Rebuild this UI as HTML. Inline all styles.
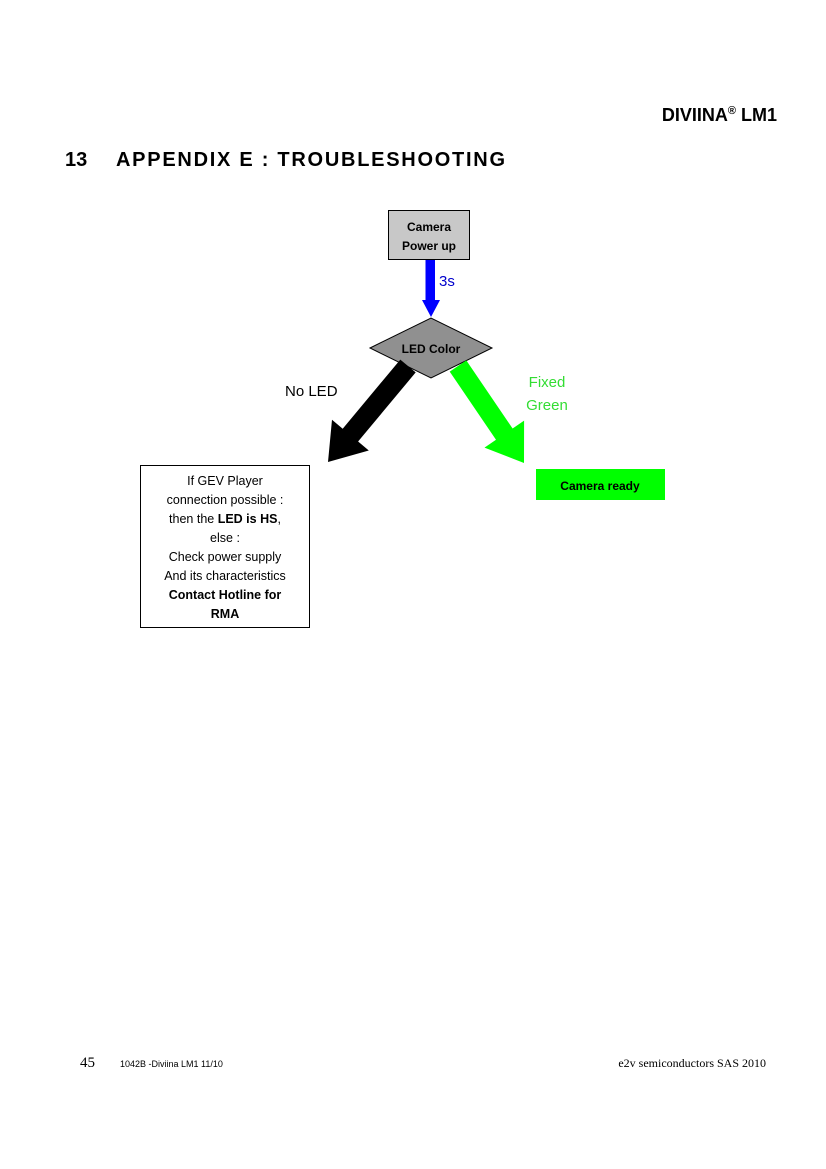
<!DOCTYPE html>
<html><head><meta charset="utf-8"><style>
html,body{margin:0;padding:0;background:#fff;}
body{width:826px;height:1169px;position:relative;overflow:hidden;}
</style></head><body>
<svg width="826" height="1169" viewBox="0 0 826 1169" xmlns="http://www.w3.org/2000/svg" style="position:absolute;left:0;top:0">
<text x="777" y="121" text-anchor="end" font-family="Liberation Sans, sans-serif" font-weight="bold" font-size="18">DIVIINA<tspan font-size="11" dy="-7">®</tspan><tspan dy="7"> LM1</tspan></text>
<text x="65" y="166" font-family="Liberation Sans, sans-serif" font-weight="bold" font-size="20">13</text>
<text x="116" y="166" font-family="Liberation Sans, sans-serif" font-weight="bold" font-size="20" textLength="389">APPENDIX E : TROUBLESHOOTING</text>

<rect x="388.5" y="210.5" width="81" height="49" fill="#c8c8c8" stroke="#000" stroke-width="1"/>
<text x="429" y="231" text-anchor="middle" font-family="Liberation Sans, sans-serif" font-weight="bold" font-size="12">Camera</text>
<text x="429" y="250" text-anchor="middle" font-family="Liberation Sans, sans-serif" font-weight="bold" font-size="12">Power up</text>

<polygon points="425.5,260 435,260 435,300 440,300 431,317 422,300 425.5,300" fill="#0000ff"/>
<text x="439" y="286" font-family="Liberation Sans, sans-serif" font-size="15" fill="#0000cc">3s</text>

<polygon points="370,348 431,318 492,348 431,378" fill="#909090" stroke="#000" stroke-width="1"/>
<text x="431" y="353" text-anchor="middle" font-family="Liberation Sans, sans-serif" font-weight="bold" font-size="12">LED Color</text>

<polygon points="400.3,359.6 415.7,372.4 358.1,441.5 368.8,450.5 328,462 332,419.7 342.7,428.7" fill="#000"/>
<polygon points="449.7,371.6 466.3,360.4 512.6,428.5 524.1,420.6 524,463 484.5,447.6 496,439.7" fill="#00ff00"/>

<text x="285" y="396" font-family="Liberation Sans, sans-serif" font-size="15">No LED</text>
<text x="547" y="387" text-anchor="middle" font-family="Liberation Sans, sans-serif" font-size="15" fill="#33dd33">Fixed</text>
<text x="547" y="410" text-anchor="middle" font-family="Liberation Sans, sans-serif" font-size="15" fill="#33dd33">Green</text>

<rect x="536" y="469" width="129" height="31" fill="#00ff00"/>
<text x="600" y="490" text-anchor="middle" font-family="Liberation Sans, sans-serif" font-weight="bold" font-size="12">Camera ready</text>

<rect x="140.5" y="465.5" width="169" height="162" fill="#fff" stroke="#000" stroke-width="1"/>
<g font-family="Liberation Sans, sans-serif" font-size="12.5" text-anchor="middle">
<text x="225" y="485">If GEV Player</text>
<text x="225" y="504">connection possible :</text>
<text x="225" y="523">then the <tspan font-weight="bold">LED is HS</tspan>,</text>
<text x="225" y="542">else :</text>
<text x="225" y="561">Check power supply</text>
<text x="225" y="580">And its characteristics</text>
<text x="225" y="599" font-weight="bold">Contact Hotline for</text>
<text x="225" y="618" font-weight="bold">RMA</text>
</g>

<text x="80" y="1067" font-family="Liberation Serif, serif" font-size="15">45</text>
<text x="120" y="1067" font-family="Liberation Sans, sans-serif" font-size="9">1042B -Diviina LM1 11/10</text>
<text x="766" y="1067" text-anchor="end" font-family="Liberation Serif, serif" font-size="12">e2v semiconductors SAS 2010</text>
</svg>
</body></html>
